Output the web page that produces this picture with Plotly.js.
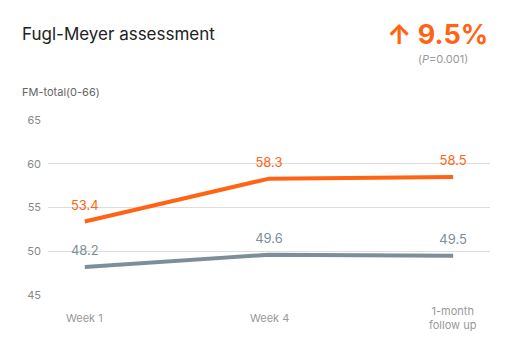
<!DOCTYPE html>
<html>
<head>
<meta charset="utf-8">
<script src="https://cdn.plot.ly/plotly-3.0.1.min.js"></script>
<style>html,body{margin:0;padding:0;background:#fff;}#chart{width:520px;height:360px;}</style>
</head>
<body>
<div id="chart"></div>
<script>
const categories = ["Week 1", "Week 4", "1-month<br>follow up"];
const seriesA = [53.4, 58.3, 58.5];
const seriesB = [48.2, 49.6, 49.5];
const yTicks = [45, 50, 55, 60, 65];

const orange = "#FF6414";
const gray = "#7D8E98";
const font = "Inter, 'Noto Sans', sans-serif";

const L = 48, R = 30, T = 120, B = 65, W = 520, H = 360;
const pw = W - L - R, ph = H - T - B;
const px = x => (x - L) / pw;
const py = y => (H - B - y) / ph;

function series(vals, color) {
  return {
    x: categories.map((c, i) => i), y: vals, mode: "lines+markers+text", type: "scatter",
    line: {color: color, width: 4},
    marker: {size: 12, color: "rgba(0,0,0,0)"},
    text: vals.map(v => v.toFixed(1)), textposition: "top center",
    textfont: {color: color, size: 13, family: font},
    hoverinfo: "skip", cliponaxis: false
  };
}
const traces = [series(seriesA, orange), series(seriesB, gray)];

const annotations = [
  {xref: "paper", yref: "paper", x: px(20), y: py(34), xanchor: "left", yanchor: "middle",
   text: "Fugl-Meyer assessment", showarrow: false, font: {size: 17, color: "#222", family: font}},
  {xref: "paper", yref: "paper", x: px(490), y: py(35), xanchor: "right", yanchor: "middle",
   text: "<b>↑ 9.5%</b>", showarrow: false, font: {size: 27, color: orange, family: font}},
  {xref: "paper", yref: "paper", x: px(443), y: py(59), xanchor: "center", yanchor: "middle",
   text: "(<i>P</i>=0.001)", showarrow: false, font: {size: 11, color: "#999", family: font}},
  {xref: "paper", yref: "paper", x: px(20), y: py(92), xanchor: "left", yanchor: "middle",
   text: "FM-total(0-66)", showarrow: false, font: {size: 11, color: "#666", family: font}}
];
categories.forEach((c, i) => {
  annotations.push({xref: "x", yref: "paper", x: i, y: py(318), xanchor: "center", yanchor: "middle",
    text: c, showarrow: false, align: "center", font: {size: 11, color: "#999", family: font}});
});

const layout = {
  width: W, height: H,
  margin: {l: L, r: R, t: T, b: B},
  paper_bgcolor: "#fff", plot_bgcolor: "#fff",
  showlegend: false,
  font: {family: font},
  xaxis: {
    range: [-0.2, 2.2],
    showticklabels: false,
    showgrid: false, zeroline: false, showline: false, ticks: ""
  },
  yaxis: {
    range: [45, 65], tickvals: yTicks,
    showgrid: true, gridcolor: "#DDDDDD", gridwidth: 1,
    zeroline: false, showline: false, ticks: "",
    ticklabelstandoff: 6,
    tickfont: {size: 11, color: "#888"}
  },
  annotations: annotations
};

Plotly.newPlot("chart", traces, layout, {displayModeBar: false, staticPlot: true});
</script>
</body>
</html>
